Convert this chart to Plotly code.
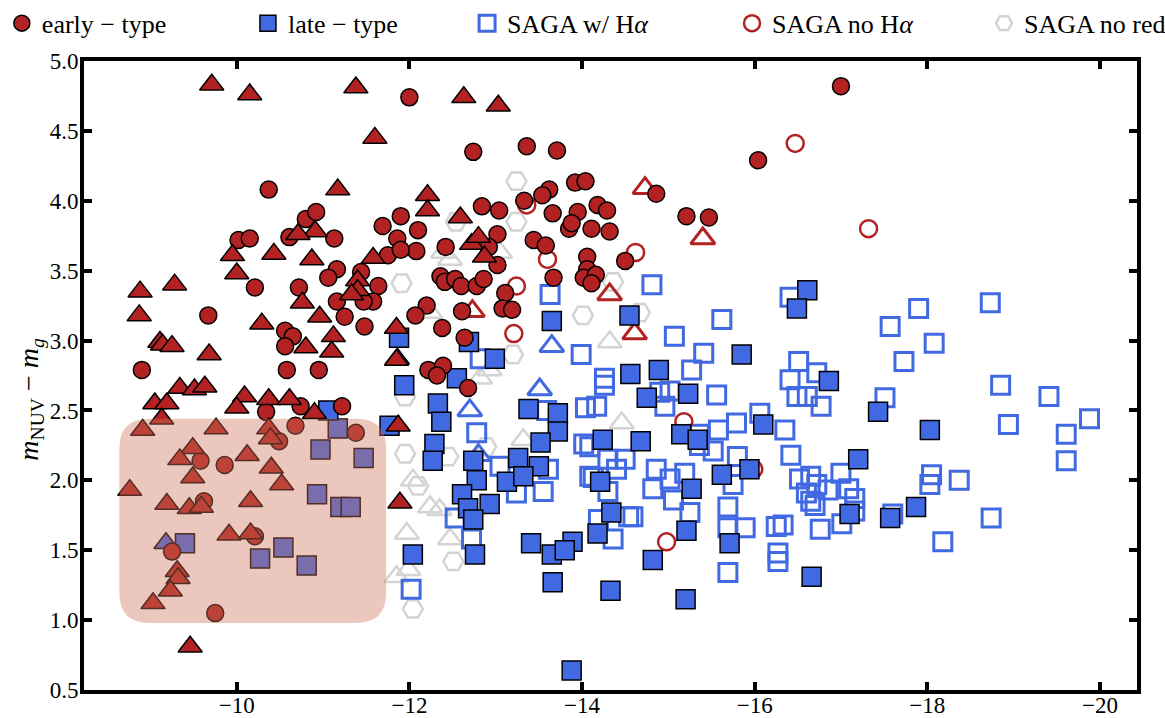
import plotly.graph_objects as go

# ---------------- data (absolute g magnitude vs NUV-g colour) ----------------
early_x = [-17.00, -16.04, -12.00, -12.74, -13.36, -13.71, -10.37, -13.92, -14.04, -14.86, -15.21, -15.47,
           -13.62, -13.54, -13.33, -13.66, -13.95, -13.85, -13.88, -14.18, -14.29, -14.11, -14.32, -12.84,
           -13.04, -11.90, -11.69, -12.10, -11.86, -11.75, -11.64, -12.08, -12.42, -13.02, -12.92, -13.02,
           -13.44, -13.58, -14.06, -14.06, -14.02, -14.16, -14.11, -14.50, -13.67, -12.36, -12.41, -12.53,
           -12.60, -12.78, -12.86, -13.11, -13.08, -13.19, -12.61, -12.20, -12.07, -12.38, -12.64, -12.22,
           -12.39, -12.32, -10.80, -10.92, -10.02, -10.15, -10.61, -11.13, -10.21, -10.72, -11.16, -11.06,
           -11.44, -11.58, -11.47, -11.16, -11.25, -11.48, -11.90, -10.56, -10.65, -10.56, -10.58, -10.95,
           -8.90, -9.67, -12.68, -10.34, -10.74, -11.22, -10.68, -10.49, -11.38, -9.58, -9.86, -9.62,
           -9.25, -9.75, -10.21]
early_y = [4.82, 4.29, 4.74, 4.35, 4.39, 4.36, 4.08, 4.13, 4.14, 4.05, 3.89, 3.88,
           4.08, 4.04, 4.00, 3.91, 3.92, 3.80, 3.84, 3.97, 3.93, 3.80, 3.78, 3.96,
           3.93, 3.89, 3.82, 3.79, 3.73, 3.61, 3.39, 3.64, 3.67, 3.76, 3.67, 3.54,
           3.72, 3.68, 3.60, 3.51, 3.45, 3.47, 3.41, 3.57, 3.45, 3.46, 3.42, 3.44,
           3.39, 3.39, 3.44, 3.34, 3.23, 3.22, 3.21, 3.25, 3.18, 3.09, 3.02, 2.79,
           2.82, 2.75, 3.87, 3.92, 3.72, 3.73, 3.74, 3.73, 3.38, 3.38, 3.51, 3.45,
           3.49, 3.28, 3.28, 3.28, 3.17, 3.10, 3.65, 3.07, 3.03, 2.96, 2.79, 2.79,
           2.79, 3.18, 2.66, 2.49, 2.53, 2.53, 2.39, 2.28, 2.34, 2.14, 2.11, 1.85,
           1.49, 1.05, 1.60]

early_tri_x = [-9.71, -10.15, -11.38, -11.60, -12.63, -13.03, -11.17, -10.91, -10.71, -9.95, -10.00, -10.43,
               -10.87, -8.88, -8.87, -9.28, -10.29, -10.76, -10.96, -10.80, -11.12, -11.10, -9.11, -9.14,
               -9.25, -9.68, -11.40, -11.40, -11.33, -11.58, -11.85, -11.85, -12.21, -12.21, -12.59, -12.72,
               -12.80, -12.87, -9.05, -9.19, -9.34, -9.51, -9.63, -10.09, -10.00, -10.37, -10.61, -11.87,
               -11.89, -9.46, -8.91, -9.13, -8.76, -9.49, -9.34, -9.49, -9.19, -9.45, -9.59, -9.76,
               -10.12, -10.40, -10.52, -10.16, -9.91, -10.16, -10.37, -10.39, -10.90, -9.31, -9.32, -9.23,
               -9.03]
early_tri_y = [4.83, 4.76, 4.81, 4.45, 4.74, 4.68, 4.08, 3.78, 3.76, 3.61, 3.48, 3.62,
               3.58, 3.35, 3.18, 3.40, 3.12, 3.27, 3.17, 2.95, 3.03, 2.92, 2.99, 2.97,
               2.96, 2.90, 3.43, 3.36, 3.33, 3.59, 3.09, 2.86, 4.04, 3.93, 3.88, 3.69,
               3.74, 3.60, 2.55, 2.55, 2.66, 2.65, 2.67, 2.60, 2.52, 2.58, 2.58, 2.39,
               1.84, 0.81, 2.36, 2.44, 1.93, 2.23, 2.15, 2.02, 1.83, 1.80, 1.81, 2.37,
               2.18, 2.09, 1.97, 1.85, 1.61, 1.62, 2.37, 2.30, 2.48, 1.35, 1.30, 1.21,
               1.12]

late_x = [-11.17, -10.97, -11.47, -10.93, -11.20, -11.32, -9.40, -10.27, -10.54, -10.81, -11.06,
          -11.88, -11.94, -12.33, -12.37, -11.77, -12.29, -12.27, -12.69, -12.99, -12.55, -13.65, -14.55,
          -14.56, -13.38, -13.72, -13.72, -13.52, -13.26, -13.50, -13.13, -13.32, -12.74, -12.78, -12.61,
          -12.93, -12.68, -12.74, -14.24, -14.21, -14.34, -12.04, -12.76, -13.41, -13.65, -13.89, -13.80,
          -13.66, -14.33, -15.20, -13.88, -14.82, -14.18, -14.68, -14.75, -15.15, -15.34, -15.21, -15.71,
          -15.62, -15.94, -16.10, -15.27, -15.23, -15.85, -16.61, -16.49, -16.86, -14.89, -17.43, -18.03,
          -17.20, -17.10, -17.57, -17.87, -16.66]
late_y = [2.37, 2.22, 2.16, 1.90, 1.81, 1.81, 1.55, 1.44, 1.52, 1.39, 2.50,
          3.02, 2.68, 2.55, 2.42, 2.39, 2.26, 2.14, 2.99, 2.87, 2.73, 3.14, 3.18,
          2.76, 2.51, 2.48, 2.35, 2.27, 2.16, 2.10, 1.99, 2.03, 2.14, 2.00, 1.90,
          1.83, 1.80, 1.72, 2.29, 1.99, 1.77, 1.47, 1.47, 1.55, 1.47, 1.56, 1.50,
          1.27, 1.21, 1.15, 0.64, 1.43, 1.62, 2.28, 2.59, 2.33, 2.29, 1.64, 1.55,
          2.04, 2.08, 2.40, 1.94, 2.62, 2.90, 3.36, 3.23, 2.71, 2.79, 2.49, 2.36,
          2.15, 1.76, 1.73, 1.81, 1.31]

late_tri_x = [-9.18, -11.86]
late_tri_y = [1.55, 2.87]

saga_ha_x = [-13.63, -13.99, -14.81, -15.07, -15.62, -15.41, -12.82, -14.26, -15.27, -12.78, -13.59, -14.04,
             -14.17, -14.26, -14.09, -13.55, -13.24, -13.61, -13.05, -12.53, -14.30, -14.40, -14.09, -14.54,
             -14.30, -14.19, -12.02, -12.72, -14.02, -14.50, -14.13, -14.59, -14.36, -14.90, -14.96, -15.02,
             -15.56, -15.79, -16.06, -15.58, -15.36, -15.52, -15.80, -14.86, -15.02, -14.82, -15.06, -15.25,
             -15.69, -15.69, -15.89, -15.75, -15.69, -16.25, -16.27, -16.27, -16.51, -16.41, -16.72, -16.49,
             -16.61, -16.77, -16.35, -16.42, -15.36, -16.52, -16.72, -17.00, -17.09, -16.65, -15.19, -16.41,
             -17.90, -17.57, -18.08, -17.73, -18.73, -18.85, -19.41, -19.88, -19.61, -19.61, -18.94, -18.74,
             -18.37, -18.05, -18.03, -18.18, -17.51, -16.65, -16.85, -16.60, -16.70, -17.16, -17.16, -17.01,
             -16.76, -16.33, -17.60]
saga_ha_y = [3.33, 2.90, 3.40, 3.03, 3.15, 2.91, 2.87, 2.73, 2.79, 2.34, 2.50, 2.52,
             2.53, 2.68, 2.24, 1.92, 1.91, 2.08, 2.10, 1.73, 2.15, 2.08, 2.03, 1.74,
             1.92, 1.72, 1.22, 1.58, 2.26, 2.15, 2.02, 1.74, 1.58, 2.63, 2.53, 2.64,
             2.61, 2.41, 2.48, 2.36, 2.33, 2.21, 2.17, 2.08, 2.01, 1.94, 1.86, 1.77,
             1.81, 1.66, 1.66, 1.97, 1.34, 1.67, 1.48, 1.42, 2.85, 2.72, 2.77, 2.60,
             2.60, 2.53, 2.36, 2.18, 2.25, 2.01, 1.97, 2.05, 1.94, 1.85, 2.05, 3.31,
             3.23, 3.10, 2.98, 2.85, 3.27, 2.68, 2.60, 2.44, 2.33, 2.14, 2.40, 1.73,
             2.00, 2.04, 1.97, 1.56, 2.59, 2.03, 1.93, 1.91, 1.82, 1.87, 1.78, 1.69,
             1.65, 1.68, 1.76]

saga_noha_x = [-16.47, -17.32, -14.62, -13.36, -13.60, -13.24, -13.21, -15.18, -15.99, -14.98]
saga_noha_y = [4.41, 3.80, 3.63, 3.97, 3.58, 3.39, 3.05, 2.42, 2.08, 1.56]

noha_tri_x = [-14.73, -15.40, -14.32, -14.61, -12.73]
noha_tri_y = [4.09, 3.73, 3.33, 3.05, 3.21]

ha_tri_x = [-13.65, -12.70, -13.51, -12.80]
ha_tri_y = [2.96, 2.50, 2.65, 2.18]

noz_x = [-13.24, -11.91, -13.24, -14.01, -14.67, -14.36, -13.20, -12.54, -11.95, -11.95, -12.45, -12.04,
         -12.51, -12.89, -12.10]
noz_y = [4.14, 3.41, 3.85, 3.18, 3.20, 3.42, 2.90, 3.85, 2.60, 2.19, 2.17, 1.08,
         1.42, 2.24, 1.96]

noz_tri_x = [-12.39, -13.05, -12.24, -14.32, -12.47, -12.93, -12.82, -14.46, -12.04, -12.24, -11.97, -11.99,
             -11.85, -12.47, -12.35, -13.32]
noz_tri_y = [3.63, 3.63, 3.20, 2.99, 3.58, 2.79, 2.73, 2.41, 2.00, 1.81, 1.62, 1.36,
             1.31, 1.58, 1.79, 2.29]

legend_names = ["early \u2212 type", "late \u2212 type", "SAGA w/ H<i>\u03b1</i>",
                "SAGA no H<i>\u03b1</i>", "SAGA no redshift"]
x_ticks = [-10, -12, -14, -16, -18, -20]
y_ticks = [0.5, 1.0, 1.5, 2.0, 2.5, 3.0, 3.5, 4.0, 4.5, 5.0]

# highlighted region (rounded box) in data units
box_x0, box_x1 = -8.64, -11.73
box_y0, box_y1 = 0.98, 2.44
box_rx, box_ry = 0.35, 0.21

RED = "#B22222"
BLUE = "#4169E1"
GRAY = "#D4D4D4"
FONT = "Liberation Serif"

fig = go.Figure()

fig.add_trace(go.Scatter(x=noz_tri_x, y=noz_tri_y, mode="markers", showlegend=False,
                         marker=dict(symbol="triangle-up-open", size=21, color=GRAY, line=dict(width=2.5, color=GRAY))))
fig.add_trace(go.Scatter(x=noz_x, y=noz_y, mode="markers", name=legend_names[4], legend="legend5",
                         marker=dict(symbol="hexagon2-open", size=20, color=GRAY, line=dict(width=2.5, color=GRAY))))
fig.add_trace(go.Scatter(x=saga_ha_x, y=saga_ha_y, mode="markers", name=legend_names[2], legend="legend3",
                         marker=dict(symbol="square-open", size=18, color=BLUE, line=dict(width=3, color=BLUE))))
fig.add_trace(go.Scatter(x=ha_tri_x, y=ha_tri_y, mode="markers", showlegend=False,
                         marker=dict(symbol="triangle-up-open", size=21, color=BLUE, line=dict(width=3, color=BLUE))))
fig.add_trace(go.Scatter(x=saga_noha_x, y=saga_noha_y, mode="markers", name=legend_names[3], legend="legend4",
                         marker=dict(symbol="circle-open", size=17, color=RED, line=dict(width=2.5, color=RED))))
fig.add_trace(go.Scatter(x=noha_tri_x, y=noha_tri_y, mode="markers", showlegend=False,
                         marker=dict(symbol="triangle-up-open", size=21, color=RED, line=dict(width=3, color=RED))))
fig.add_trace(go.Scatter(x=late_x, y=late_y, mode="markers", name=legend_names[1], legend="legend2",
                         marker=dict(symbol="square", size=19, color=BLUE, line=dict(width=1.5, color="black"))))
fig.add_trace(go.Scatter(x=late_tri_x, y=late_tri_y, mode="markers", showlegend=False,
                         marker=dict(symbol="triangle-up", size=21, color=BLUE, line=dict(width=1.5, color="black"))))
fig.add_trace(go.Scatter(x=early_x, y=early_y, mode="markers", name=legend_names[0], legend="legend",
                         marker=dict(symbol="circle", size=17, color=RED, line=dict(width=1.5, color="black"))))
fig.add_trace(go.Scatter(x=early_tri_x, y=early_tri_y, mode="markers", showlegend=False,
                         marker=dict(symbol="triangle-up", size=21, color=RED, line=dict(width=1.5, color="black"))))

path = (f"M {box_x0 - box_rx},{box_y1} L {box_x1 + box_rx},{box_y1} "
        f"Q {box_x1},{box_y1} {box_x1},{box_y1 - box_ry} L {box_x1},{box_y0 + box_ry} "
        f"Q {box_x1},{box_y0} {box_x1 + box_rx},{box_y0} L {box_x0 - box_rx},{box_y0} "
        f"Q {box_x0},{box_y0} {box_x0},{box_y0 + box_ry} L {box_x0},{box_y1 - box_ry} "
        f"Q {box_x0},{box_y1} {box_x0 - box_rx},{box_y1} Z")
fig.add_shape(type="path", path=path, xref="x", yref="y", layer="above",
              fillcolor="rgba(204,116,90,0.4)", line=dict(width=0))

leg_common = dict(orientation="h", yanchor="middle", y=1.06, xanchor="left",
                  bgcolor="rgba(0,0,0,0)", borderwidth=0,
                  font=dict(family=FONT, size=26, color="black"))
legend_x = [-0.078, 0.1557, 0.3638, 0.6154, 0.8547]

axis_common = dict(showgrid=False, zeroline=False, showline=True, linewidth=4, linecolor="black",
                   mirror="ticks", ticks="inside", ticklen=8, tickwidth=4, tickcolor="black",
                   tickfont=dict(family=FONT, size=23, color="black"))

fig.update_layout(
    width=1165, height=718,
    margin=dict(l=84, r=28, t=61, b=28, autoexpand=False),
    paper_bgcolor="white", plot_bgcolor="white",
    xaxis=dict(range=[-8.23, -20.43], tickvals=x_ticks, ticklabelstandoff=-9, **axis_common),
    yaxis=dict(range=[0.5, 5.0], tickvals=y_ticks, tickformat=".1f", ticklabelstandoff=-3, **axis_common),
    legend=dict(x=legend_x[0], **leg_common),
    legend2=dict(x=legend_x[1], **leg_common),
    legend3=dict(x=legend_x[2], **leg_common),
    legend4=dict(x=legend_x[3], **leg_common),
    legend5=dict(x=legend_x[4], **leg_common),
    annotations=[dict(text="<i>m</i><sub>NUV</sub> \u2212 <i>m</i><sub><i>g</i></sub>",
                      xref="paper", yref="paper", x=-0.051, y=0.462, textangle=-90,
                      showarrow=False, xanchor="center", yanchor="middle",
                      font=dict(family=FONT, size=28, color="black"))],
)

fig.write_html("out.html")
